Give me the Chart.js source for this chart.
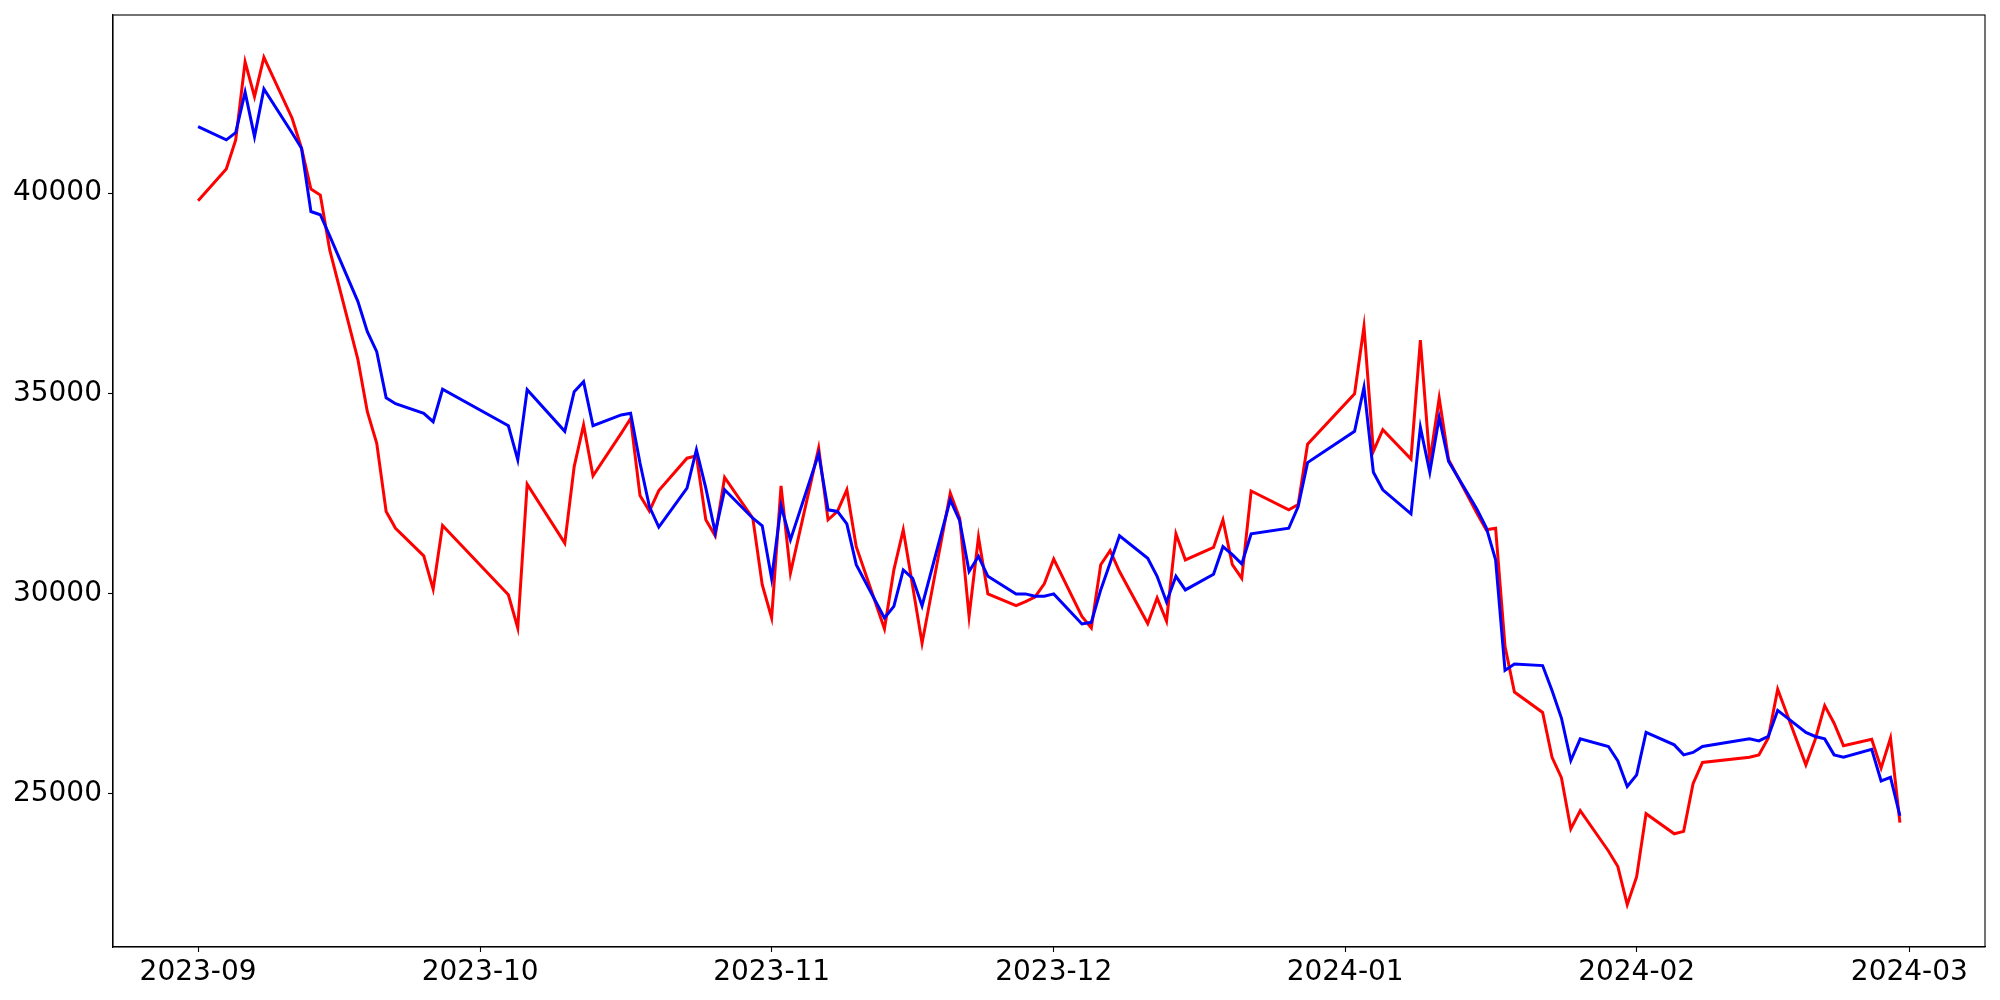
<!DOCTYPE html>
<html>
<head>
<meta charset="utf-8">
<script src="https://cdn.jsdelivr.net/npm/chart.js@4.4.1/dist/chart.umd.min.js"></script>
<style>
  html, body { margin: 0; padding: 0; background: #fff; }
  #wrap { width: 2000px; height: 1000px; }
</style>
</head>
<body>
<div id="wrap"><canvas id="myChart" width="2000" height="1000"></canvas></div>
<script>
// trading days (KRX calendar, Chuseok / New Year / Seollal gaps)
const dates = [
  "2023-09-01","2023-09-04","2023-09-05","2023-09-06","2023-09-07","2023-09-08","2023-09-11","2023-09-12","2023-09-13","2023-09-14",
  "2023-09-15","2023-09-18","2023-09-19","2023-09-20","2023-09-21","2023-09-22","2023-09-25","2023-09-26","2023-09-27",
  "2023-10-04","2023-10-05","2023-10-06","2023-10-10","2023-10-11","2023-10-12","2023-10-13","2023-10-16","2023-10-17","2023-10-18",
  "2023-10-19","2023-10-20","2023-10-23","2023-10-24","2023-10-25","2023-10-26","2023-10-27","2023-10-30","2023-10-31",
  "2023-11-01","2023-11-02","2023-11-03","2023-11-06","2023-11-07","2023-11-08","2023-11-09","2023-11-10","2023-11-13","2023-11-14",
  "2023-11-15","2023-11-16","2023-11-17","2023-11-20","2023-11-21","2023-11-22","2023-11-23","2023-11-24","2023-11-27","2023-11-28",
  "2023-11-29","2023-11-30",
  "2023-12-01","2023-12-04","2023-12-05","2023-12-06","2023-12-07","2023-12-08","2023-12-11","2023-12-12","2023-12-13","2023-12-14",
  "2023-12-15","2023-12-18","2023-12-19","2023-12-20","2023-12-21","2023-12-22","2023-12-26","2023-12-27","2023-12-28",
  "2024-01-02","2024-01-03","2024-01-04","2024-01-05","2024-01-08","2024-01-09","2024-01-10","2024-01-11","2024-01-12","2024-01-15",
  "2024-01-16","2024-01-17","2024-01-18","2024-01-19","2024-01-22","2024-01-23","2024-01-24","2024-01-25","2024-01-26","2024-01-29",
  "2024-01-30","2024-01-31",
  "2024-02-01","2024-02-02","2024-02-05","2024-02-06","2024-02-07","2024-02-08","2024-02-13","2024-02-14","2024-02-15","2024-02-16",
  "2024-02-19","2024-02-20","2024-02-21","2024-02-22","2024-02-23","2024-02-26","2024-02-27","2024-02-28","2024-02-29"
];

// red line
const seriesA = [
  39810,40600,41330,43280,42410,43390,41870,41120,40100,39950,38580,35840,34540,33750,32050,31630,30940,30110,31700,
  29970,29140,32730,31260,33170,34210,32940,34000,34370,32450,32060,32570,33380,33440,31840,31440,32900,31880,30220,
  29390,32690,30510,33630,31840,32050,32590,31170,29120,30590,31590,30180,28760,32510,31880,29430,31410,29990,29700,29800,29910,30240,
  30860,29430,29140,30720,31070,30550,29250,29890,29310,31490,30840,31150,31840,30720,30380,32560,32090,32220,33730,
  34990,36670,33550,34090,33360,36330,33300,34880,33340,32010,31590,31630,28680,27540,27030,25910,25400,24120,24580,23570,23180,22230,
  22930,24500,24000,24060,25250,25780,25910,25970,26390,27610,25720,26360,27200,26760,26200,26360,25640,26390,24280
];

// blue line
const seriesB = [
  41660,41330,41510,42520,41410,42600,41500,41120,39540,39460,38930,37290,36540,36040,34890,34740,34500,34290,35100,
  34190,33340,35090,34050,35040,35290,34190,34460,34500,33260,32170,31660,32630,33590,32630,31520,32590,31880,31690,
  30370,32190,31340,33490,32090,32050,31740,30720,29390,29680,30590,30380,29690,32340,31820,30550,30930,30430,29990,29990,29930,29930,
  29990,29240,29280,30090,30760,31440,30880,30430,29790,30430,30090,30480,31170,30970,30740,31490,31630,32170,33270,
  34050,35150,33030,32590,31990,34150,33030,34400,33300,32110,31650,30840,28080,28240,28200,27580,26890,25830,26370,26180,25820,25180,
  25470,26530,26220,25970,26030,26180,26370,26320,26430,27080,26530,26430,26370,25970,25910,26110,25320,25410,24450
];

const monthTicks = ["2023-09","2023-10","2023-11","2023-12","2024-01","2024-02","2024-03"];
const valueTicks = [25000, 30000, 35000, 40000];

const DAY = 86400000;
const t0 = Date.parse(dates[0]);
const toDay = s => (Date.parse(s) - t0) / DAY;
const xs = dates.map(toDay);
const toPoints = vals => vals.map((v, i) => ({ x: xs[i], y: v }));

// matplotlib-like 5% margins
const xSpan = xs[xs.length - 1] - xs[0];
const allVals = seriesA.concat(seriesB);
const yLo = Math.min(...allVals), yHi = Math.max(...allVals);
const ySpan = yHi - yLo;

Chart.defaults.font.family = "'DejaVu Sans', sans-serif";
Chart.defaults.color = "#000";

const frame = {
  id: "frame",
  afterDraw(chart) {
    const { ctx, chartArea: a } = chart;
    ctx.save();
    ctx.strokeStyle = "#000";
    ctx.lineWidth = 1.1;
    ctx.strokeRect(a.left, a.top, a.right - a.left, a.bottom - a.top);
    ctx.restore();
  }
};

const tickGrid = { drawOnChartArea: false, drawTicks: true, tickLength: 5, tickColor: "#000", tickWidth: 1.1 };

new Chart(document.getElementById("myChart"), {
  type: "line",
  data: {
    datasets: [
      { data: toPoints(seriesA), borderColor: "#ff0000", borderWidth: 3, pointRadius: 0, tension: 0, spanGaps: true, order: 1 },
      { data: toPoints(seriesB), borderColor: "#0000ff", borderWidth: 3, pointRadius: 0, tension: 0, spanGaps: true, order: 0 }
    ]
  },
  plugins: [frame],
  options: {
    responsive: false,
    animation: false,
    layout: { padding: { top: 15, right: 15, left: 0, bottom: 0 } },
    plugins: { legend: { display: false }, tooltip: { enabled: false } },
    scales: {
      x: {
        type: "linear",
        min: xs[0] - 0.05 * xSpan,
        max: xs[xs.length - 1] + 0.05 * xSpan,
        afterBuildTicks: s => { s.ticks = monthTicks.map(m => ({ value: toDay(m + "-01") })); },
        afterFit: s => { s.height = 53; s.paddingLeft = 0; s.paddingRight = 0; },
        ticks: {
          autoSkip: false, maxRotation: 0, padding: 4,
          font: { size: 28 },
          callback: (v, i) => monthTicks[i]
        },
        grid: tickGrid,
        border: { display: true, color: "#000", width: 1.1 }
      },
      y: {
        min: yLo - 0.05 * ySpan,
        max: yHi + 0.05 * ySpan,
        afterBuildTicks: s => { s.ticks = valueTicks.map(v => ({ value: v })); },
        afterFit: s => { s.width = 113; s.paddingTop = 0; s.paddingBottom = 0; },
        ticks: {
          padding: 6,
          font: { size: 28 },
          callback: v => String(v)
        },
        grid: tickGrid,
        border: { display: true, color: "#000", width: 1.1 }
      }
    }
  }
});
</script>
</body>
</html>
